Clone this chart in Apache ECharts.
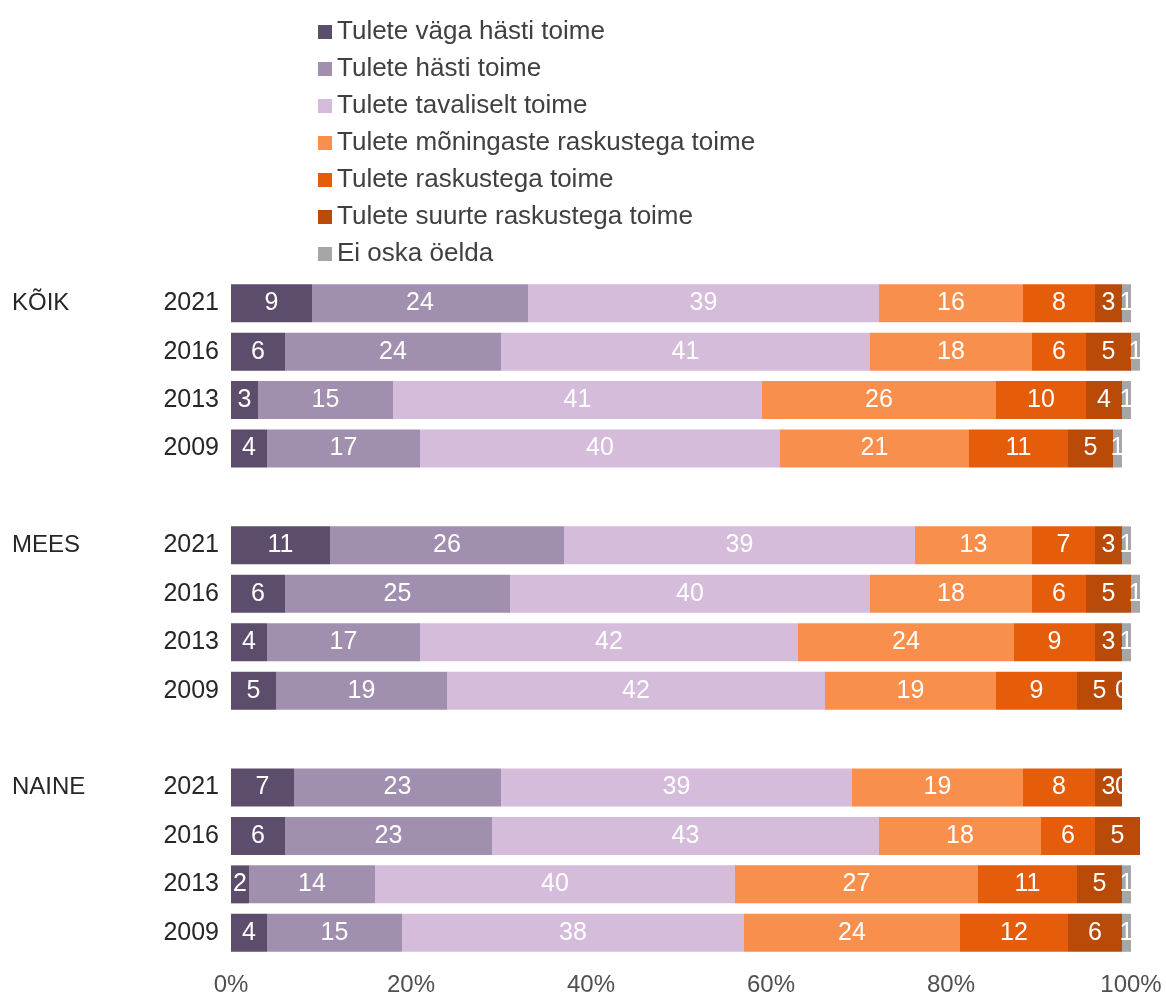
<!DOCTYPE html>
<html>
<head>
<meta charset="utf-8">
<script src="https://cdn.jsdelivr.net/npm/echarts@6/dist/echarts.min.js"></script>
<style>
  html, body { margin: 0; padding: 0; background: #ffffff; }
  #chart { width: 1166px; height: 999px; }
</style>
</head>
<body>
<div id="chart"></div>
<script>
// Groups and survey years (top to bottom within each group)
const groups = ['KÕIK', 'MEES', 'NAINE'];
const years = ['2021', '2016', '2013', '2009'];

// Answer categories (stack order, left to right)
const seriesNames = [
  'Tulete väga hästi toime',
  'Tulete hästi toime',
  'Tulete tavaliselt toime',
  'Tulete mõningaste raskustega toime',
  'Tulete raskustega toime',
  'Tulete suurte raskustega toime',
  'Ei oska öelda'
];
const seriesColors = ['#5d4d6d', '#a08fae', '#d6bcdb', '#f98f4c', '#e55c0b', '#b94a08', '#a6a6a6'];

// Shares (%) per answer, rows: KÕIK 2021..2009, MEES 2021..2009, NAINE 2021..2009
const vagaHasti   = [9, 6, 3, 4,   11, 6, 4, 5,   7, 6, 2, 4];
const hasti       = [24, 24, 15, 17, 26, 25, 17, 19, 23, 23, 14, 15];
const tavaliselt  = [39, 41, 41, 40, 39, 40, 42, 42, 39, 43, 40, 38];
const moningaste  = [16, 18, 26, 21, 13, 18, 24, 19, 19, 18, 27, 24];
const raskustega  = [8, 6, 10, 11,  7, 6, 9, 9,    8, 6, 11, 12];
const suurte      = [3, 5, 4, 5,    3, 5, 3, 5,    3, 5, 5, 6];
const eiOska      = [1, 1, 1, 1,    1, 1, 1, 0,    0, null, 1, 1];

const seriesValues = [vagaHasti, hasti, tavaliselt, moningaste, raskustega, suurte, eiOska];

// Percent axis ticks
const xTicks = [0, 20, 40, 60, 80, 100];

// Category keys with an empty spacer row between groups
const categories = [];
const rowIndex = []; // category position of each data row
groups.forEach((g, gi) => {
  if (gi > 0) categories.push('gap' + gi);
  years.forEach(y => {
    rowIndex.push(categories.length);
    categories.push(g + '|' + y);
  });
});

function spread(values) {
  const out = categories.map(() => '-');
  values.forEach((v, i) => { out[rowIndex[i]] = (v === null ? '-' : v); });
  return out;
}

const font = "'Liberation Sans', Arial, sans-serif";

const series = seriesNames.map((name, si) => ({
  name: name,
  type: 'bar',
  stack: 'total',
  clip: false,
  barWidth: 38,
  yAxisIndex: 0,
  itemStyle: { color: seriesColors[si] },
  label: {
    show: true,
    position: 'inside',
    color: '#ffffff',
    fontFamily: font,
    fontSize: 25,
    formatter: p => String(p.value)
  },
  data: spread(seriesValues[si])
}));

const chart = echarts.init(document.getElementById('chart'), null, { renderer: 'canvas' });
chart.setOption({
  animation: false,
  backgroundColor: '#ffffff',
  legend: {
    orient: 'vertical',
    left: 313,
    top: 14,
    itemWidth: 14,
    itemHeight: 14,
    itemGap: 11,
    icon: 'rect',
    data: seriesNames,
    textStyle: { fontFamily: font, fontSize: 26, color: '#404040', lineHeight: 26, padding: [0, 0, 0, 0] }
  },
  grid: { left: 231, right: 35, top: 279, bottom: 42 },
  xAxis: {
    type: 'value',
    min: xTicks[0],
    max: xTicks[xTicks.length - 1],
    interval: 20,
    axisLine: { show: false },
    axisTick: { show: false },
    splitLine: { show: false },
    axisLabel: {
      margin: 16,
      fontFamily: font,
      fontSize: 24,
      color: '#505050',
      formatter: v => v + '%'
    }
  },
  yAxis: [
    {
      type: 'category',
      inverse: true,
      data: categories,
      axisLine: { show: false },
      axisTick: { show: false },
      axisLabel: {
        margin: 12,
        fontFamily: font,
        fontSize: 25,
        color: '#262626',
        interval: 0,
        formatter: v => v.indexOf('|') >= 0 ? v.split('|')[1] : ''
      }
    },
    {
      type: 'category',
      inverse: true,
      position: 'left',
      data: categories,
      axisLine: { show: false },
      axisTick: { show: false },
      axisLabel: {
        margin: 219,
        align: 'left',
        fontFamily: font,
        fontSize: 24,
        color: '#262626',
        interval: 0,
        formatter: v => (v.indexOf('|') >= 0 && v.split('|')[1] === years[0]) ? v.split('|')[0] : ''
      }
    }
  ],
  series: series
});
</script>
</body>
</html>
